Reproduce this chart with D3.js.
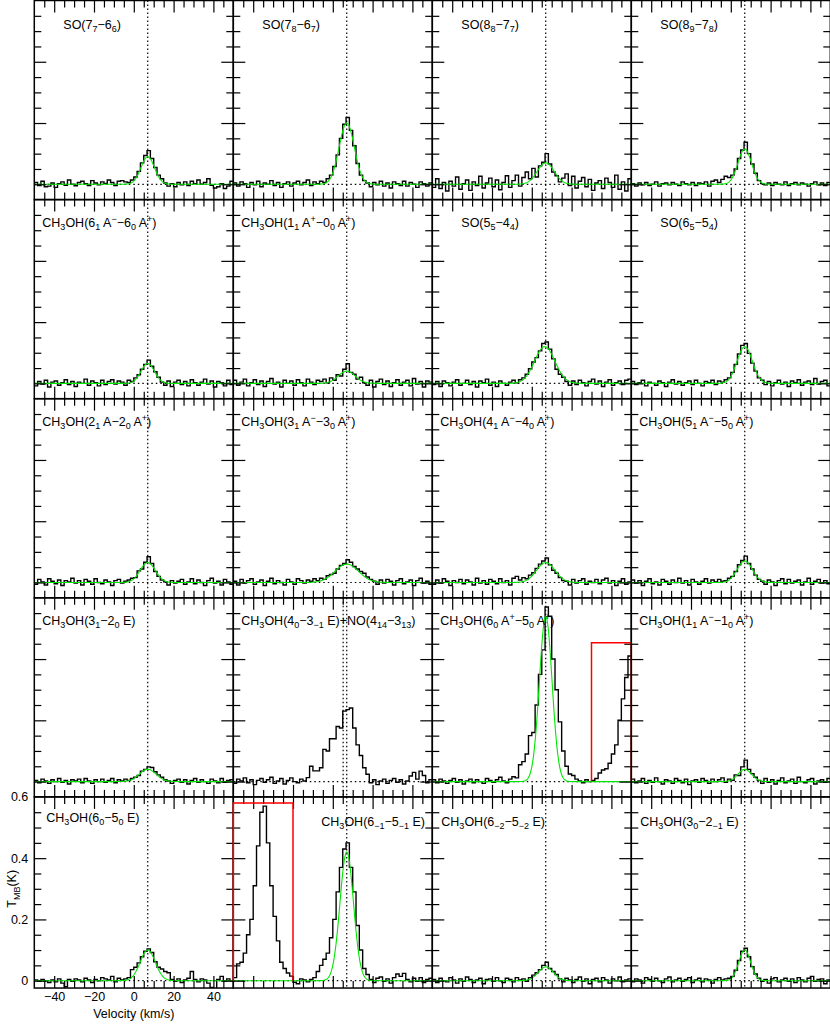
<!DOCTYPE html>
<html><head><meta charset="utf-8">
<script src="https://cdn.jsdelivr.net/npm/d3@7"></script>
<style>
body{margin:0;background:#fff;}
svg{display:block;font-family:"Liberation Sans",Arial,Helvetica,sans-serif;}
</style></head><body>
<svg id="chart" width="830" height="1026"></svg>
<script>
// ---------------- DATA ----------------
const velocityRange = [-50, 50];      // km/s
const channelWidth = 5 / 3;           // km/s per channel (60 channels)
const tmbRange = [-0.05, 0.6];        // K (rows 1-4)
const tmbRangeLastRow = [-0.024, 0.6];// K (bottom row)
const vLSR = 7.0;                     // km/s
const xMajorTicks = [-40, -20, 0, 20, 40];
const yMajorTicks = [0, 0.2, 0.4, 0.6];

const lineLabels = [
  "SO(7_{7}−6_{6})", "SO(7_{8}−6_{7})", "SO(8_{8}−7_{7})", "SO(8_{9}−7_{8})",
  "CH_{3}OH(6_{1} A^{−}−6_{0} A^{+})", "CH_{3}OH(1_{1} A^{+}−0_{0} A^{+})", "SO(5_{5}−4_{4})", "SO(6_{5}−5_{4})",
  "CH_{3}OH(2_{1} A−2_{0} A^{+})", "CH_{3}OH(3_{1} A^{−}−3_{0} A^{+})", "CH_{3}OH(4_{1} A^{−}−4_{0} A^{+})", "CH_{3}OH(5_{1} A^{−}−5_{0} A^{+})",
  "CH_{3}OH(3_{1}−2_{0} E)", "CH_{3}OH(4_{0}−3_{−1} E)+NO(4_{14}−3_{13})", "CH_{3}OH(6_{0} A^{+}−5_{0} A^{+})", "CH_{3}OH(1_{1} A^{−}−1_{0} A^{+})",
  "CH_{3}OH(6_{0}−5_{0} E)", "CH_{3}OH(6_{−1}−5_{−1} E)", "CH_{3}OH(6_{−2}−5_{−2} E)", "CH_{3}OH(3_{0}−2_{−1} E)"
];

// brightness temperature per channel, in mK
const so_77_66 = [6,-4,10,-8,-6,4,-10,2,8,-3, 14,0,-5,6,10,2,-4,12,4,-2, 8,3,14,6,-4,10,12,8,6,14, 24,42,70,94,110,84,55,30,18,4, -6,2,-8,6,-2,8,-4,10,2,14, 0,6,18,-3,-12,-8,2,-14,-6,10];
const so_78_67 = [4,-6,8,2,-10,6,-2,10,-8,4, 0,12,-4,6,-10,2,8,-6,4,10, -2,6,14,-4,8,2,10,6,18,30, 58,96,150,196,218,176,126,68,30,12, 4,-8,6,-2,10,-6,4,-12,8,2, -4,10,-6,6,0,-10,8,2,-6,4];
const so_88_77 = [-10,18,-14,6,-22,10,-6,24,-16,2, 14,-20,8,-4,26,-12,4,20,-8,14, -18,6,28,-10,12,30,-6,22,40,18, 52,24,60,72,100,66,40,28,8,20, 34,-4,26,-12,10,22,-8,16,-20,4, 12,-14,20,6,-10,30,-16,8,-22,18];
const so_89_78 = [2,-6,4,-2,6,-4,0,8,-6,2, 4,-2,6,0,-4,8,2,-2,6,-4, 4,2,8,-6,10,14,6,16,26,22, 30,50,84,112,137,100,66,36,12,2, -2,4,-4,6,0,-2,8,-4,2,6, -2,4,0,-6,2,8,-2,4,-4,6];
const ch3oh_61a_60a = [-8,6,-2,10,-12,4,8,-6,2,12, -4,6,-10,4,0,14,-6,8,2,-8, 10,-4,6,12,-2,8,4,-6,10,6, 18,28,46,62,76,56,38,20,4,-6, 8,-10,4,10,-4,6,-8,12,2,-6, 4,14,-2,8,-12,6,2,-8,10,-4];
const ch3oh_11a_00a = [10,-6,4,14,-8,2,12,-4,8,-10, 6,16,-2,4,-12,10,0,8,-6,12, 2,-8,14,4,-4,10,6,14,2,18, 10,28,24,46,64,36,30,14,20,2, -6,10,-12,6,14,-4,8,-10,2,12, -6,4,10,-8,16,-2,6,-12,8,4];
const so_55_44 = [-4,6,-10,8,2,-8,4,12,-6,0, 10,-4,6,-12,8,2,14,-6,4,-10, 8,0,-6,4,10,2,12,18,30,48, 70,84,106,130,135,112,80,46,30,20, 6,-6,8,-4,10,2,-8,6,14,-2, 8,-10,4,12,-6,2,8,-4,10,14];
const so_65_54 = [6,-4,2,10,-8,4,0,-6,8,2, -10,4,12,-2,6,-6,2,8,-4,10, 0,-8,6,2,10,-4,8,4,12,18, 36,62,96,124,130,98,66,40,18,10, -4,6,-8,2,10,-2,4,-10,8,2, 12,-6,4,8,-4,16,-2,6,10,-8];
const ch3oh_21a_20a = [-6,10,2,-8,12,4,-4,8,-10,6, 2,14,-2,6,-8,10,4,-6,12,0, -4,8,2,-10,6,10,-2,4,8,14, 16,38,44,66,84,62,36,20,8,2, -8,6,-2,4,10,-6,2,12,-4,8, 0,-10,6,14,-2,4,-8,10,2,-6];
const ch3oh_31a_30a = [4,-8,10,-2,6,12,-6,2,8,-10, 4,14,-4,6,0,-8,10,2,-6,12, 6,-2,8,4,12,6,14,10,22,26, 30,44,56,62,74,66,52,44,36,30, 18,10,4,-6,8,-2,10,4,-8,6, 12,-4,2,8,-10,6,14,-2,4,-6];
const ch3oh_41a_40a = [-6,8,-2,12,4,-10,6,0,10,-4, 8,2,-8,14,-2,6,-6,10,4,-4, 12,0,6,-8,14,20,8,16,12,24, 32,46,60,70,80,58,40,30,16,6, 4,-8,10,-2,6,12,-6,4,0,10, -4,8,14,-2,6,-10,4,12,-6,2];
const ch3oh_51a_50a = [8,-2,6,-10,4,12,-4,2,-8,10, 4,-6,8,0,14,-2,6,-8,10,2, -6,4,12,-2,8,2,10,4,6,14, 20,36,58,72,86,62,44,24,10,4, -6,8,2,-10,6,12,-4,10,-2,4, 8,-8,2,14,-6,4,10,-2,6,-4];
const ch3oh_31_20e = [4,-4,8,2,-6,6,0,10,-2,4, -8,6,2,8,-4,10,2,-6,6,0, 8,-2,4,10,-4,6,2,8,4,10, 14,20,34,40,48,46,32,22,14,6, 2,-6,4,8,-2,6,-8,4,10,-2, 6,0,-6,8,2,-4,10,-2,4,6];
const ch3oh_40_3m1e_no = [-6,8,2,12,-4,6,-10,4,10,-2, 6,14,-6,2,10,-8,4,12,0,-4, 8,2,13,50,35,35,45,105,100,140, 140,180,175,230,235,240,175,120,85,45, 24,-4,6,-10,2,8,-6,4,10,-2, 6,-8,2,18,30,8,34,20,-4,6];
const ch3oh_60a_50a = [6,-4,8,2,-6,4,10,-2,6,-8, 2,8,-4,6,0,-6,10,4,-2,6, 14,2,-4,8,16,12,55,65,90,150, 160,250,350,430,570,540,400,300,195,100, 50,25,20,8,2,-4,6,0,4,10, 28,38,42,60,90,120,200,270,340,410];
const ch3oh_11a_10a = [8,-4,2,10,-6,4,-2,12,0,-8, 6,2,-6,10,4,-4,8,-10,2,6, -2,10,4,-6,8,0,6,12,-2,8, 4,22,20,48,70,40,26,14,4,-6, 10,-2,6,-8,4,12,-4,2,8,-6, 14,0,-4,6,10,-8,2,6,-2,10];
const ch3oh_60_50e = [2,-2,4,0,-6,2,-4,6,-8,-20, 4,-2,6,2,-4,8,2,-6,4,0, 10,6,2,14,-4,8,2,6,10,36, 44,58,78,96,104,92,62,44,38,30, 26,4,-2,6,-6,2,8,30,4,-4, 6,2,-8,-22,-30,4,14,-2,6,0];
const ch3oh_6m1_5m1e = [10,55,60,90,150,200,310,440,550,570, 450,310,210,130,60,40,25,15,-5,-10, 6,2,-4,4,10,30,50,70,90,140, 200,290,370,430,450,370,290,180,100,40, 20,4,-6,8,12,-2,6,-8,10,22, 14,24,4,-4,8,-2,10,-6,4,8];
const ch3oh_6m2_5m2e = [4,-6,8,0,-4,10,2,-8,6,-2, 12,4,-6,2,8,-10,4,6,-2,10, 0,-6,8,4,-4,10,2,6,-2,10, 18,26,36,50,60,40,30,20,6,-4, 8,2,-6,4,12,-2,6,-10,4,8, -4,10,2,-8,6,0,12,-4,2,6];
const ch3oh_30_2m1e = [-4,6,2,-8,10,4,-2,8,0,-6, 6,12,-4,2,8,-2,4,10,-6,2, 8,-4,6,2,-8,4,10,2,6,8, 14,34,66,96,106,78,46,22,8,-2, 4,-8,6,10,-4,2,8,-2,6,-6, 10,2,-4,8,14,-2,4,6,-10,2];

const spectra = [so_77_66, so_78_67, so_88_77, so_89_78,
  ch3oh_61a_60a, ch3oh_11a_00a, so_55_44, so_65_54,
  ch3oh_21a_20a, ch3oh_31a_30a, ch3oh_41a_40a, ch3oh_51a_50a,
  ch3oh_31_20e, ch3oh_40_3m1e_no, ch3oh_60a_50a, ch3oh_11a_10a,
  ch3oh_60_50e, ch3oh_6m1_5m1e, ch3oh_6m2_5m2e, ch3oh_30_2m1e];

// Gaussian fit results (amplitude K, centre km/s, FWHM km/s); null = no fit
const fitAmp    = [0.09, 0.20, 0.07, 0.115, 0.065, 0.04, 0.12, 0.12, 0.065, 0.06, 0.065, 0.07, 0.04, null, 0.54, 0.04, 0.10, 0.42, 0.045, 0.10];
const fitCenter = [7, 7, 7, 7, 7, 7, 6.5, 7, 7, 7, 7, 7, 7, null, 7, 7, 7, 7, 7, 7];
const fitFwhm   = [8, 9, 10, 8, 8, 10, 12, 9, 9, 14, 11, 9, 10, null, 7.5, 8, 9, 8, 9, 7];

// extra marker lines (km/s) per panel: default vLSR
const extraMarkers = {13: [5.2, vLSR]};

// red integration windows
const windowPanel = [14, 17];
const windowFrom  = [30, -50];
const windowTo    = [50, -20];
const windowTop   = [0.453, 0.58];

// ---------------- LAYOUT ----------------
const gridLeft = 34.3, gridTop = 0.5, pw = 199, ph = 199.1, ncol = 4, nrow = 5;
const pxPerK = ph / (tmbRange[1] - tmbRange[0]);
const svg = d3.select("#chart");
const x = d3.scaleLinear().domain(velocityRange).range([0, pw]);
const yStd = d3.scaleLinear().domain(tmbRange).range([ph, 0]);
const phLast = (tmbRangeLastRow[1] - tmbRangeLastRow[0]) * pxPerK;
const yLast = d3.scaleLinear().domain(tmbRangeLastRow).range([phLast, 0]);
const xMinor = d3.range(-45, 50, 5).filter(v => !xMajorTicks.includes(v));
const yMinorAll = d3.range(-0.05, 0.6, 0.05).map(v => +v.toFixed(2)).filter(v => v < 0.6 && !yMajorTicks.includes(v));
const yMajIn = [0, 0.2, 0.4];
const edges = d3.range(spectra[0].length + 1).map(i => velocityRange[0] + i * channelWidth);

function labelPos(i) {
  const row = Math.floor(i / ncol), col = i % ncol;
  const isSO = lineLabels[i].startsWith("SO");
  if (row === 0) return [29, 28];
  if (row < 4) return [isSO ? 29 : 8, 27];
  if (col === 0) return [12, 25];
  if (col === 1) return [88, 29];
  return [9, 29];
}

function richText(sel, str) {
  const re = /([_^])\{([^}]*)\}|([^_^]+)/g;
  let m, cur = 0;
  while ((m = re.exec(str))) {
    let target = 0, txt, size = null;
    if (m[3] !== undefined) { txt = m[3]; }
    else { txt = m[2]; target = m[1] === "_" ? 3.5 : -5; size = 9; }
    const t = sel.append("tspan").attr("dy", target - cur).text(txt);
    if (size) t.attr("font-size", size);
    cur = target;
  }
}

const tickLen = {major: 12, minor: 7};
function addTicks(g, axisFn, scale, values, len, transform) {
  g.append("g").attr("transform", transform)
    .call(axisFn(scale).tickValues(values).tickSize(-len).tickFormat(""))
    .call(a => a.select(".domain").remove())
    .call(a => a.selectAll("line").attr("stroke", "#000").attr("stroke-width", 1.2));
}

spectra.forEach((vals, i) => {
  const row = Math.floor(i / ncol), col = i % ncol;
  const last = row === nrow - 1;
  const y = last ? yLast : yStd;
  const h = last ? phLast : ph;
  const yMinor = yMinorAll.filter(v => v > y.domain()[0] + 0.005);
  const g = svg.append("g").attr("transform", `translate(${gridLeft + col * pw},${gridTop + row * ph})`);
  const cid = "clip" + i;
  g.append("clipPath").attr("id", cid).append("rect").attr("width", pw).attr("height", h);
  const inner = g.append("g").attr("clip-path", `url(#${cid})`);

  [[xMajorTicks, tickLen.major], [xMinor, tickLen.minor]].forEach(([vals2, len]) => {
    addTicks(g, d3.axisBottom, x, vals2, len, `translate(0,${h})`);
    addTicks(g, d3.axisTop, x, vals2, len, `translate(0,0)`);
  });
  [[yMajIn, tickLen.major], [yMinor, tickLen.minor]].forEach(([vals2, len]) => {
    addTicks(g, d3.axisLeft, y, vals2, len, `translate(0,0)`);
    addTicks(g, d3.axisRight, y, vals2, len, `translate(${pw},0)`);
  });

  inner.append("line").attr("x1", 0).attr("x2", pw).attr("y1", y(0)).attr("y2", y(0))
    .attr("stroke", "#000").attr("stroke-width", 1.2).attr("stroke-dasharray", "1.5,3");
  (extraMarkers[i] || [vLSR]).forEach(v => {
    inner.append("line").attr("x1", x(v)).attr("x2", x(v)).attr("y1", 0).attr("y2", h)
      .attr("stroke", "#000").attr("stroke-width", 1.2).attr("stroke-dasharray", "1.5,2.5");
  });

  const pts = vals.map((t, k) => [edges[k], t / 1000]);
  pts.push([edges[vals.length], vals[vals.length - 1] / 1000]);
  inner.append("path").datum(pts)
    .attr("d", d3.line().x(d => x(d[0])).y(d => y(d[1])).curve(d3.curveStepAfter))
    .attr("fill", "none").attr("stroke", "#000").attr("stroke-width", 1.4);

  if (fitAmp[i] !== null) {
    const s = fitFwhm[i] / (2 * Math.sqrt(2 * Math.log(2)));
    const vs = d3.range(velocityRange[0], velocityRange[1] + 0.001, 0.25);
    inner.append("path").datum(vs)
      .attr("d", d3.line().x(v => x(v)).y(v => y(fitAmp[i] * Math.exp(-0.5 * ((v - fitCenter[i]) / s) ** 2))))
      .attr("fill", "none").attr("stroke", "#00e600").attr("stroke-width", 1.1);
  }

  g.append("rect").attr("width", pw).attr("height", h).attr("fill", "none")
    .attr("stroke", "#000").attr("stroke-width", 1.5);

  windowPanel.forEach((p, k) => {
    if (p !== i) return;
    g.append("path").datum([[windowFrom[k], 0], [windowFrom[k], windowTop[k]], [windowTo[k], windowTop[k]], [windowTo[k], 0]])
      .attr("d", d3.line().x(d => x(d[0])).y(d => y(d[1])))
      .attr("fill", "none").attr("stroke", "#ff0000").attr("stroke-width", 1.5);
  });

  const [lx, ly] = labelPos(i);
  const t = g.append("text").attr("x", lx).attr("y", ly).attr("font-size", 12.5).attr("fill", "#000");
  richText(t, lineLabels[i]);

  if (last && col === 0) {
    g.append("g").call(d3.axisLeft(y).tickValues(yMajorTicks).tickSize(0).tickPadding(6)
        .tickFormat(d => d === 0 ? "0" : d.toFixed(1)))
      .call(a => a.select(".domain").remove())
      .call(a => a.selectAll("text").attr("font-size", 12.5).attr("font-family", "Liberation Sans, Arial, sans-serif").attr("fill", "#000"));
    g.append("g").attr("transform", `translate(0,${h})`)
      .call(d3.axisBottom(x).tickValues(xMajorTicks).tickSize(0).tickPadding(4))
      .call(a => a.select(".domain").remove())
      .call(a => a.selectAll("text").attr("font-size", 12.5).attr("font-family", "Liberation Sans, Arial, sans-serif").attr("fill", "#000"));
    g.append("text").attr("x", pw / 2).attr("y", h + 30).attr("text-anchor", "middle")
      .attr("font-size", 12.5).text("Velocity (km/s)");
    const yl = g.append("text").attr("transform", `translate(${-18},${y(0.3)}) rotate(-90)`)
      .attr("text-anchor", "middle").attr("font-size", 12.5);
    yl.append("tspan").text("T");
    yl.append("tspan").attr("dy", 3.5).attr("font-size", 9).text("MB");
    yl.append("tspan").attr("dy", -3.5).text("(K)");
  }
});
</script>
</body></html>
